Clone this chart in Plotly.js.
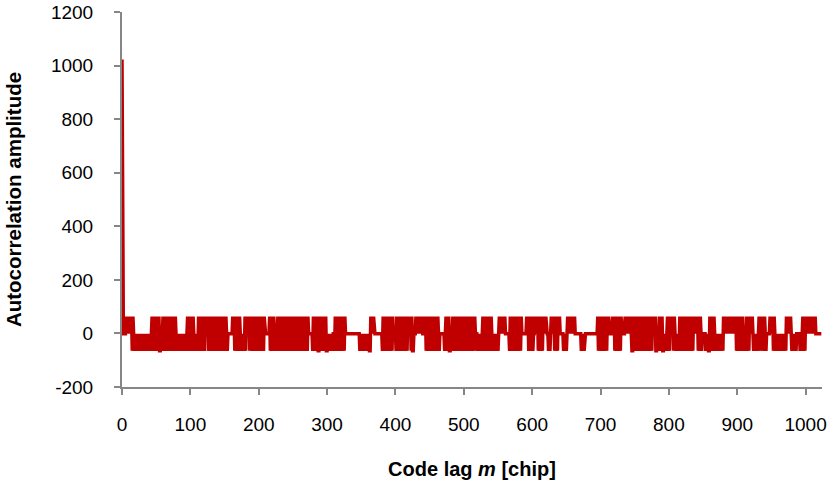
<!DOCTYPE html>
<html>
<head>
<meta charset="utf-8">
<script src="https://cdn.plot.ly/plotly-3.0.1.min.js"></script>
<style>html,body{margin:0;padding:0;background:#fff}#chart{width:833px;height:489px}</style>
</head>
<body>
<div id="chart"></div>
<script>
// Peak value at zero lag, and the three side-lobe levels seen in the picture
const peakLag = 0;
const peakValue = 1023;
const levelUp = 63;
const levelFlat = -1;
const levelDown = -65;
const codeLength = 1023;

// Lag ranges where the curve reaches the +63 level
const upStart = [6, 44, 60, 72, 96, 111, 162, 179, 216, 228, 250, 279, 290, 311, 363, 381, 401, 430, 442, 454, 474, 484, 506, 528, 552, 567, 591, 603, 628, 652, 696, 718, 735, 747, 762, 786, 798, 815, 859, 879, 913, 932, 947, 971, 996];
const upEnd   = [16, 55, 70, 78, 104, 152, 172, 208, 223, 247, 272, 287, 299, 326, 369, 396, 425, 438, 450, 462, 479, 503, 516, 540, 560, 584, 601, 620, 640, 662, 713, 730, 745, 769, 781, 791, 808, 847, 866, 908, 922, 940, 954, 978, 1015];

// Lag ranges where the curve reaches the -65 level
const downStart = [14, 45, 99, 126, 165, 186, 216, 250, 279, 311, 347, 381, 401, 423, 445, 454, 472, 506, 520, 567, 594, 608, 623, 633, 645, 671, 696, 720, 745, 762, 781, 806, 842, 854, 898, 922, 935, 952, 978, 991];
const downEnd   = [43, 94, 121, 155, 182, 208, 247, 272, 308, 326, 364, 396, 418, 426, 452, 464, 503, 516, 552, 584, 601, 615, 628, 637, 652, 676, 710, 730, 769, 776, 801, 835, 849, 879, 918, 930, 942, 971, 986, 1000];

// Axis tick labels
const xTickVals = [0, 100, 200, 300, 400, 500, 600, 700, 800, 900, 1000];
const xTickText = ["0", "100", "200", "300", "400", "500", "600", "700", "800", "900", "1000"];
const yTickVals = [-200, 0, 200, 400, 600, 800, 1000, 1200];
const yTickText = ["-200", "0", "200", "400", "600", "800", "1000", "1200"];

function inRanges(k, s, e) {
  for (let i = 0; i < s.length; i++) if (k >= s[i] && k <= e[i]) return true;
  return false;
}

const lags = [peakLag];
const amps = [peakValue];
let flip = false;
for (let k = 1; k <= codeLength; k++) {
  const up = inRanges(k, upStart, upEnd);
  const dn = inRanges(k, downStart, downEnd);
  let v = levelFlat;
  if (up && dn) v = flip ? levelUp : levelDown;
  else if (up) v = flip ? levelUp : levelFlat;
  else if (dn) v = flip ? levelDown : levelFlat;
  flip = !flip;
  lags.push(k);
  amps.push(v);
}

const font = "'Liberation Sans', Arial, sans-serif";
const trace = {
  x: lags, y: amps, type: 'scatter', mode: 'lines',
  line: {color: '#C00000', width: 3.5}, hoverinfo: 'skip'
};
const layout = {
  width: 833, height: 489,
  margin: {l: 122, r: 11, t: 12, b: 102},
  paper_bgcolor: '#ffffff', plot_bgcolor: '#ffffff',
  showlegend: false,
  font: {family: font, size: 19, color: '#000'},
  xaxis: {
    range: [0, 1024], tickvals: xTickVals, ticktext: xTickText,
    showgrid: false, zeroline: false, showline: true, linecolor: '#868686', linewidth: 2,
    ticks: 'outside', ticklen: 6, tickwidth: 2, tickcolor: '#868686',
    ticklabelstandoff: 13,
    title: {text: '<b>Code lag <i>m</i> [chip]</b>', font: {family: font, size: 20}, standoff: 28}
  },
  yaxis: {
    range: [-200, 1200], tickvals: yTickVals, ticktext: yTickText,
    showgrid: false, zeroline: false, showline: true, linecolor: '#868686', linewidth: 2,
    ticks: 'outside', ticklen: 6, tickwidth: 2, tickcolor: '#868686',
    ticklabelstandoff: 17,
    title: {text: '<b>Autocorrelation amplitude</b>', font: {family: font, size: 20.5}, standoff: 24}
  }
};
Plotly.newPlot('chart', [trace], layout, {staticPlot: true, displayModeBar: false});
</script>
</body>
</html>
